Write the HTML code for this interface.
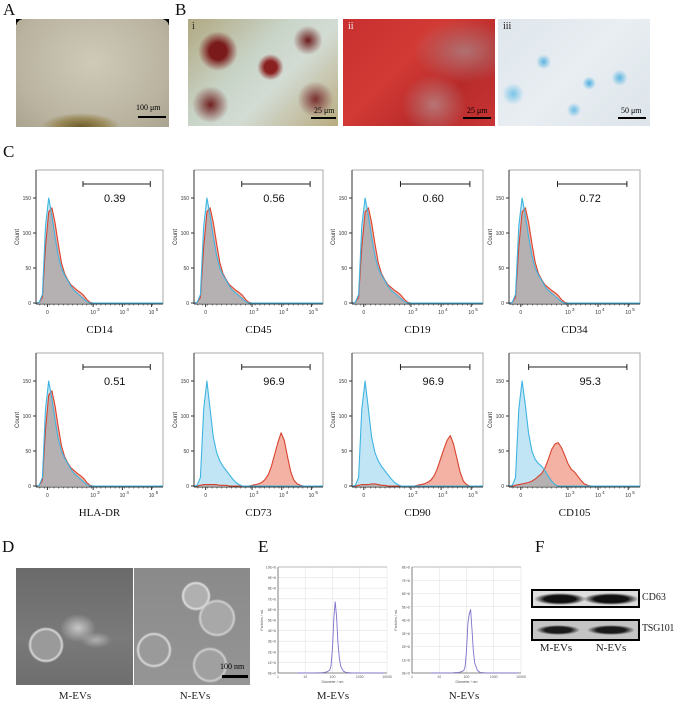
<!DOCTYPE html>
<html><head><meta charset="utf-8">
<style>
body{margin:0;background:#fff;width:677px;height:706px;overflow:hidden;font-family:"Liberation Serif",serif;}
#root{position:relative;width:677px;height:706px;}
.pl{position:absolute;font-size:17px;color:#111;}
.img{position:absolute;overflow:hidden;}
.lbl{position:absolute;font-size:11px;color:#222;text-align:center;}
svg{position:absolute;left:0;top:0;}
</style></head><body>
<div id="root">
<div class="pl" style="left:3px;top:0px">A</div>
<div class="pl" style="left:175px;top:0px">B</div>
<div class="pl" style="left:3px;top:142px">C</div>
<div class="pl" style="left:2px;top:537px">D</div>
<div class="pl" style="left:258px;top:537px">E</div>
<div class="pl" style="left:535px;top:537px">F</div>

<div class="img" style="left:16px;top:19px;width:153px;height:108px;background:radial-gradient(ellipse 40px 14px at 65px 108px,#6b5a2a,#9a8a5a 60%,transparent 100%),radial-gradient(ellipse at 50% 40%,#cfcab8,#b9b3a0 70%,#a9a390);">
<div style="position:absolute;left:0;top:0;width:8px;height:8px;background:radial-gradient(circle at 100% 100%,transparent 8px,#000 8px)"></div>
<div style="position:absolute;right:0;top:0;width:8px;height:8px;background:radial-gradient(circle at 0 100%,transparent 8px,#000 8px)"></div>
<div style="position:absolute;left:122px;top:97px;width:28px;height:2px;background:#000"></div>
<div style="position:absolute;left:120px;top:84px;font-size:8px;color:#000">100 μm</div></div>

<div class="img" style="left:188px;top:19px;width:150px;height:107px;background:radial-gradient(circle at 20% 30%,#7a1a1a 0,#7a1a1a 6%,transparent 14%),radial-gradient(circle at 55% 45%,#8a2020 0,#8a2020 6%,transparent 13%),radial-gradient(circle at 15% 80%,#702020 0,transparent 12%),radial-gradient(circle at 80% 20%,#6a1a1a 0,transparent 10%),radial-gradient(circle at 85% 75%,#7a3030 0,transparent 12%),linear-gradient(135deg,#b0a880,#c9d4c8 40%,#d3dcd4 60%,#b9ab80);">
<div style="position:absolute;left:4px;top:2px;font-size:10px;color:#222">i</div>
<div style="position:absolute;left:123px;top:98px;width:25px;height:2px;background:#000"></div>
<div style="position:absolute;left:126px;top:87px;font-size:8px;color:#000">25 μm</div></div>

<div class="img" style="left:343px;top:19px;width:152px;height:107px;background:radial-gradient(ellipse at 80% 30%,#b07070,transparent 30%),radial-gradient(ellipse at 60% 80%,#b87575,transparent 25%),linear-gradient(135deg,#c83030,#d23a35 40%,#b82a2a 70%,#c83535);">
<div style="position:absolute;left:5px;top:2px;font-size:10px;color:#eee">ii</div>
<div style="position:absolute;left:120px;top:98px;width:28px;height:2px;background:#000"></div>
<div style="position:absolute;left:124px;top:87px;font-size:8px;color:#000">25 μm</div></div>

<div class="img" style="left:498px;top:19px;width:152px;height:107px;background:radial-gradient(circle at 30% 40%,#5ab4e0 0,transparent 6%),radial-gradient(circle at 60% 60%,#4aaee0 0,transparent 6%),radial-gradient(circle at 80% 55%,#5ab4e0 0,transparent 6%),radial-gradient(circle at 10% 70%,#7ac4e8 0,transparent 7%),radial-gradient(circle at 50% 85%,#6abbe6 0,transparent 6%),linear-gradient(135deg,#dfe6ec,#e8eef2 50%,#dde4ea);">
<div style="position:absolute;left:5px;top:2px;font-size:10px;color:#222">iii</div>
<div style="position:absolute;left:120px;top:98px;width:28px;height:2px;background:#000"></div>
<div style="position:absolute;left:123px;top:87px;font-size:8px;color:#000">50 μm</div></div>

<div class="img" style="left:16px;top:568px;width:117px;height:117px;background:radial-gradient(circle at 30px 77px,#9a9a9a 0,#9a9a9a 14px,#d8d8d8 16px,transparent 18px),radial-gradient(ellipse 18px 14px at 62px 60px,#c8c8c8,transparent 100%),radial-gradient(ellipse 16px 8px at 80px 72px,#b0b0b0,transparent 100%),linear-gradient(180deg,#6a6a6a,#7a7a7a 60%,#6e6e6e);"></div>
<div class="img" style="left:134px;top:568px;width:116px;height:117px;background:radial-gradient(circle at 20px 82px,#9a9a9a 0,#9a9a9a 14px,#dadada 16px,transparent 18px),radial-gradient(circle at 83px 50px,#a8a8a8 0,#a8a8a8 15px,#d0d0d0 17px,transparent 19px),radial-gradient(circle at 62px 28px,#b0b0b0 0,#b0b0b0 11px,#e0e0e0 13px,transparent 15px),radial-gradient(circle at 76px 97px,#a0a0a0 0,#a0a0a0 14px,#d0d0d0 16px,transparent 18px),linear-gradient(180deg,#8a8a8a,#959595);">
<div style="position:absolute;left:88px;top:107px;width:26px;height:3px;background:#000"></div>
<div style="position:absolute;left:86px;top:94px;font-size:8px;color:#000">100 nm</div></div>
<div class="lbl" style="left:45px;top:690px;width:60px">M-EVs</div>
<div class="lbl" style="left:165px;top:690px;width:60px">N-EVs</div>
<div class="lbl" style="left:303px;top:690px;width:60px">M-EVs</div>
<div class="lbl" style="left:434px;top:690px;width:60px">N-EVs</div>

<div class="img" style="left:531px;top:589px;width:105px;height:15px;border:2px solid #000;background:radial-gradient(ellipse 26px 6px at 27px 8px,#111 60%,transparent 100%),radial-gradient(ellipse 28px 6px at 78px 8px,#111 60%,transparent 100%),#ddd;"></div>
<div class="img" style="left:531px;top:619px;width:105px;height:18px;border:2px solid #000;background:radial-gradient(ellipse 22px 5px at 25px 9px,#1a1a1a 60%,transparent 100%),radial-gradient(ellipse 24px 5px at 78px 9px,#1a1a1a 60%,transparent 100%),#c4c4c4;"></div>
<div class="lbl" style="left:642px;top:592px;text-align:left;font-size:10px">CD63</div>
<div class="lbl" style="left:642px;top:623px;text-align:left;font-size:10px;letter-spacing:-0.3px">TSG101</div>
<div class="lbl" style="left:536px;top:642px;width:40px">M-EVs</div>
<div class="lbl" style="left:591px;top:642px;width:40px">N-EVs</div>

<svg id="chart" width="677" height="706"></svg>
</div>
<script>
// ---------- flow cytometry data (41 bins across biexponential axis) ----------
const markers = ["CD14","CD45","CD19","CD34","HLA-DR","CD73","CD90","CD105"];
const gateValues = ["0.39","0.56","0.60","0.72","0.51","96.9","96.9","95.3"];
const gateStart = [0.37,0.37,0.37,0.37,0.37,0.37,0.37,0.15];
const blueNeg = [0,1,12,110,150,125,95,68,50,40,32,24,18,14,10,6,2,0,0,0,0,0,0,0,0,0,0,0,0,0,0,0,0,0,0,0,0,0,0,0,0];
const redNeg  = [0,1,8,80,130,136,115,85,58,42,33,26,22,18,15,11,5,1,0,0,0,0,0,0,0,0,0,0,0,0,0,0,0,0,0,0,0,0,0,0,0];
const bluePos = [0,1,12,110,150,110,70,48,36,28,22,16,10,5,2,0,0,0,0,0,0,0,0,0,0,0,0,0,0,0,0,0,0,0,0,0,0,0,0,0,0];
const blue105 = [0,1,12,110,150,115,75,50,38,32,28,22,14,7,2,0,0,0,0,0,0,0,0,0,0,0,0,0,0,0,0,0,0,0,0,0,0,0,0,0,0];
const red73   = [0,0,1,2,2,2,2,2,1,1,1,0,0,0,0,0,0,0,1,2,3,5,9,16,28,45,62,76,65,42,20,8,3,1,0,0,0,0,0,0,0];
const red90   = [0,0,1,2,2,2,3,3,2,1,1,0,0,0,0,0,0,0,0,0,1,2,3,5,8,14,24,38,52,65,72,60,40,20,7,2,0,0,0,0,0];
const red105  = [0,0,1,2,3,4,5,7,10,14,18,26,38,52,60,62,55,44,32,24,20,14,8,3,1,0,0,0,0,0,0,0,0,0,0,0,0,0,0,0,0];
const blueSeries = [blueNeg,blueNeg,blueNeg,blueNeg,blueNeg,bluePos,bluePos,blue105];
const redSeries  = [redNeg,redNeg,redNeg,redNeg,redNeg,red73,red90,red105];
const yTicks = [0,50,100,150];
const xTickLabels = ["0","10","10","10"];
const xTickExp = ["","3","4","5"];
const xTickPos = [0.09,0.45,0.68,0.91];

// ---------- NTA data ----------
const ntaX = [0.7,1.0,1.3,1.5,1.6,1.7,1.8,1.9,1.95,2.0,2.05,2.1,2.15,2.2,2.25,2.3,2.4,2.5,2.7,3.0,3.5,3.9];
const ntaM = [0.1,0.1,0.1,0.2,0.3,0.6,1.2,3,8,26,58,74,58,32,16,7,2,0.5,0.1,0.1,0.1,0.1];
const ntaN = [0.1,0.1,0.1,0.2,0.3,0.5,1.0,2,5,18,40,47,51,36,18,8,2,0.5,0.1,0.1,0.1,0.1];
const ntaYMax = [110,85];
const ntaYTicks = [["0E+0","1E+6","2E+6","3E+6","4E+6","5E+6","6E+6","7E+6","8E+6","9E+6","10E+6"],["0E+0","1E+6","2E+6","3E+6","4E+6","5E+6","6E+6","7E+6","8E+6"]];
const ntaXTicks = ["1","10","100","1000","10000"];

const NS="http://www.w3.org/2000/svg";
const svg=document.getElementById('chart');
function mk(tag,attrs,parent){const e=document.createElementNS(NS,tag);for(const k in attrs)e.setAttribute(k,attrs[k]);(parent||svg).appendChild(e);return e;}

const boxX=[[36,163],[194,323],[352,483],[509,640]];
const rowTop=[170,353];
for(let p=0;p<8;p++){
  const r=Math.floor(p/4),c=p%4;
  const x0=boxX[c][0],x1=boxX[c][1],top=rowTop[r],base=top+133;
  const g=mk('g',{});
  
  
  const xs=f=>x0+f*(x1-x0);
  const ys=v=>base-v*0.7;
  const fr=mk('path',{d:`M${x0} ${top} H${x1} V${base+1}`,fill:'none',stroke:'#aaa','stroke-width':1},g);
  
  
  function area(arr,fill,stroke,name){
    let d=`M${xs(0)} ${ys(0)}`;
    arr.forEach((v,i)=>{d+=` L${xs(i/40).toFixed(1)} ${ys(v).toFixed(1)}`;});
    d+=` L${xs(1)} ${ys(0)} Z`;
    const a=mk('path',{d,fill,'fill-opacity':0.55,stroke,'stroke-width':1},g);
    
    
  }
  area(blueSeries[p],'#8fd0ee','none','isotype-fill');
  area(redSeries[p],'#e9735a','none','sample-fill');
  const ov=blueSeries[p].map((v,i)=>Math.min(v,redSeries[p][i]));
  let d=`M${xs(0)} ${ys(0)}`;ov.forEach((v,i)=>{d+=` L${xs(i/40).toFixed(1)} ${ys(v).toFixed(1)}`;});d+=` L${xs(1)} ${ys(0)} Z`;
  const o=mk('path',{d,fill:'#b5b0b2',stroke:'none'},g);
  
  
  function line(arr,stroke,name){let d='';arr.forEach((v,i)=>{d+=(i?' L':'M')+xs(i/40).toFixed(1)+' '+ys(v).toFixed(1);});
    const l=mk('path',{d,fill:'none',stroke,'stroke-width':1.1,'stroke-linejoin':'round'},g);
    
    }
  line(redSeries[p],'#d9432e','sample-line');
  line(blueSeries[p],'#3fb4e0','isotype-line');
  mk('line',{x1:x0,y1:top,x2:x0,y2:base+1,stroke:'#333','stroke-width':1},g);
  mk('line',{x1:x0,y1:base+1,x2:x1,y2:base+1,stroke:'#333','stroke-width':1},g);
  yTicks.forEach(t=>{mk('line',{x1:x0-3,x2:x0,y1:ys(t),y2:ys(t),stroke:'#333'},g);
    const tx=mk('text',{x:x0-5,y:ys(t)+2,'font-size':5,'text-anchor':'end','font-family':'Liberation Sans',fill:'#333'},g);tx.textContent=t;});
  const cl=mk('text',{x:0,y:0,'font-size':6,'text-anchor':'middle','font-family':'Liberation Sans',fill:'#333',transform:`translate(${x0-17},${top+67}) rotate(-90)`},g);cl.textContent='Count';
  
  
  xTickPos.forEach((f,i)=>{mk('line',{x1:xs(f),x2:xs(f),y1:base+1,y2:base+4,stroke:'#333'},g);
    const t=mk('text',{x:xs(f),y:base+11,'font-size':5,'text-anchor':'middle','font-family':'Liberation Sans',fill:'#333'},g);t.textContent=xTickLabels[i];
    if(xTickExp[i]){const e=mk('text',{x:xs(f)+4,y:base+8,'font-size':4.5,'font-family':'Liberation Sans',fill:'#333'},g);e.textContent=xTickExp[i];}});
  for(let k=0;k<25;k++){const f=0.03+k*0.037;mk('line',{x1:xs(f),x2:xs(f),y1:base+1,y2:base+2.5,stroke:'#333','stroke-width':0.6},g);}
  const gx0=xs(gateStart[p]),gx1=xs(0.9),gy=top+14;
  const gl=mk('path',{d:`M${gx0} ${gy-3}V${gy+3}M${gx0} ${gy}H${gx1}M${gx1} ${gy-3}V${gy+3}`,stroke:'#222','stroke-width':1,fill:'none'},g);
  
  
  const gt=mk('text',{x:xs(0.62),y:top+32,'font-size':11,'text-anchor':'middle','font-family':'Liberation Sans',fill:'#111'},g);gt.textContent=gateValues[p];
  
  
  const ml=mk('text',{x:(x0+x1)/2,y:base+30,'font-size':11,'text-anchor':'middle','font-family':'Liberation Serif',fill:'#111'},g);ml.textContent=markers[p];
  
  
}

const ntaBox=[[278,387],[412,521]];
[ntaM,ntaN].forEach((series,k)=>{
  const x0=ntaBox[k][0],x1=ntaBox[k][1],top=567,base=673;
  const g=mk('g',{});
  
  
  const xs=v=>x0+v/4*(x1-x0);
  const ys=v=>base-v/ntaYMax[k]*(base-top);
  const yt=ntaYTicks[k];
  yt.forEach((t,i)=>{const y=base-i*(base-top)/(yt.length-1);
    mk('line',{x1:x0,x2:x1,y1:y,y2:y,stroke:'#e2e2e2','stroke-width':0.6},g);
    const tx=mk('text',{x:x0-2,y:y+1.5,'font-size':3.5,'text-anchor':'end','font-family':'Liberation Sans',fill:'#555'},g);tx.textContent=t;});
  ntaXTicks.forEach((t,i)=>{const x=xs(i);mk('line',{x1:x,x2:x,y1:top,y2:base,stroke:'#e2e2e2','stroke-width':0.6},g);
    const tx=mk('text',{x,y:base+5,'font-size':3.5,'text-anchor':'middle','font-family':'Liberation Sans',fill:'#555'},g);tx.textContent=t;});
  mk('path',{d:`M${x0} ${top}V${base}H${x1}`,stroke:'#666',fill:'none','stroke-width':0.8},g);
  mk('line',{x1:x0,x2:x1,y1:top,y2:top,stroke:'#aaa','stroke-width':0.8},g);
  const xt=mk('text',{x:(x0+x1)/2,y:base+10,'font-size':3.5,'text-anchor':'middle','font-family':'Liberation Sans',fill:'#555'},g);xt.textContent='Diameter / nm';
  const yl=mk('text',{x:0,y:0,'font-size':3.5,'text-anchor':'middle','font-family':'Liberation Sans',fill:'#555',transform:`translate(${x0-15},${(top+base)/2}) rotate(-90)`},g);yl.textContent='Particles / mL';
  let d='';series.forEach((v,i)=>{d+=(i?' L':'M')+xs(ntaX[i]).toFixed(1)+' '+ys(v).toFixed(1);});
  const l=mk('path',{d,fill:'none',stroke:'#7b72c9','stroke-width':0.9},g);
  
  
});
</script>
</body></html>
